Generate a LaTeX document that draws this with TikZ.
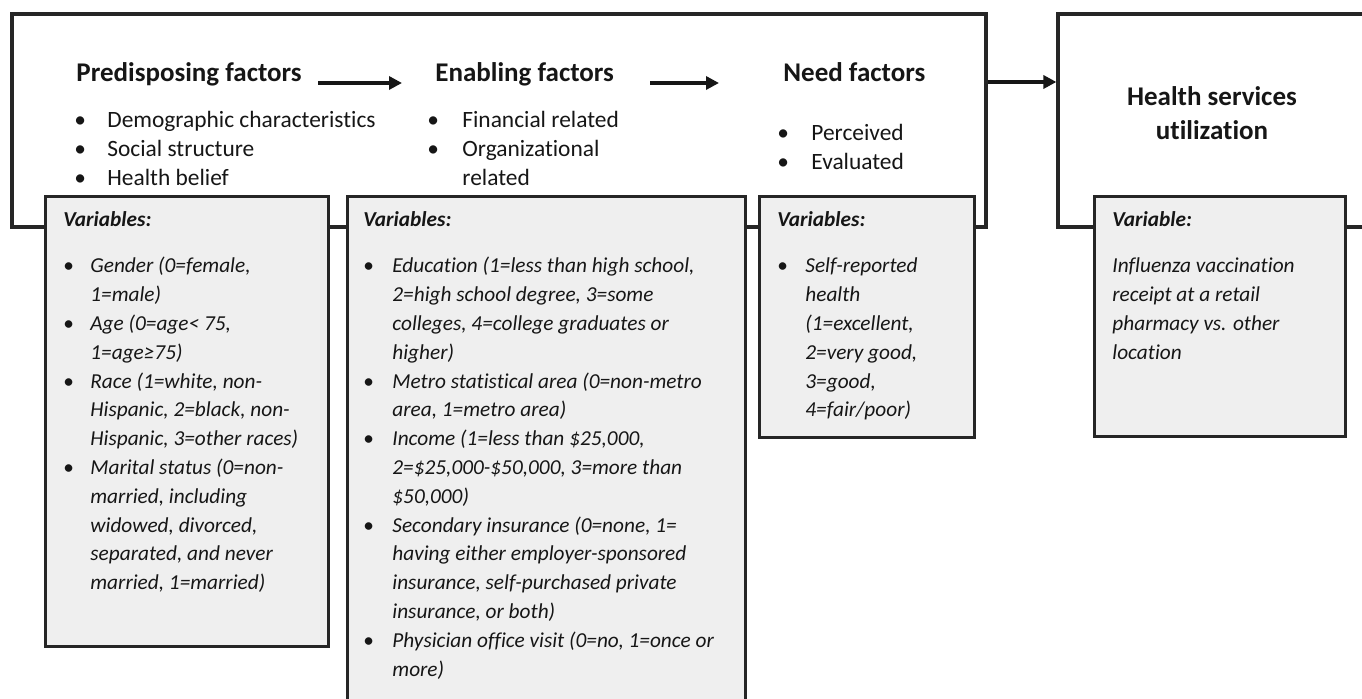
\documentclass[tikz,border=0pt]{standalone}
\usepackage{fontspec}
\setmainfont{Carlito}[RawFeature={-liga}]
\usetikzlibrary{arrows.meta}
\definecolor{ink}{HTML}{161616}
\definecolor{boxline}{HTML}{262626}
\definecolor{varfill}{HTML}{EFEFEF}

\tikzset{
  frame/.style={draw=boxline, line width=1.6pt, rectangle, inner sep=0pt},
  varbox/.style={draw=boxline, line width=1.5pt, fill=varfill, rectangle, inner sep=0pt},
  head/.style={font=\fontsize{13.5}{17}\selectfont\bfseries, text=ink, inner sep=0pt},
  body/.style={font=\fontsize{11.7}{14.5}\selectfont, text=ink, inner sep=0pt, anchor=base west},
  vartext/.style={font=\fontsize{10.65}{14.4}\selectfont\itshape, text=ink, inner sep=0pt, anchor=base west},
  flow/.style={draw=ink, line width=2pt, -{Triangle[length=6.5pt,width=6.5pt]}},
}
\newcommand{\vb}{{\upshape\textbullet}}

\begin{document}
\begin{tikzpicture}[x=0.5pt,y=-0.5pt]
\useasboundingbox (0,0) rectangle (1362,699);
\clip (0,0) rectangle (1362,699);
\fill[white] (0,0) rectangle (1362,699);

% model frames
\node[frame, minimum width=487pt, minimum height=106.5pt] (factors) at (499,120.5) {};
\node[frame, minimum width=158.5pt, minimum height=106.5pt] (outcome) at (1216.5,120.5) {};

% factor headings
\node[head, anchor=base west] (pre) at (76,82) {Predisposing factors};
\node[head, anchor=base west] (enb) at (435,82) {Enabling factors};
\node[head, anchor=base west] (need) at (783,82) {Need factors};
\node[head, anchor=base, align=center] (hsu) at (1212,140) {Health services\\utilization};

% factor lists
\node[body] (prelist) at (74,128) {\begin{tabular}[t]{@{}p{16.5pt}@{}l@{}}
\textbullet & Demographic characteristics\\
\textbullet & Social structure\\
\textbullet & Health belief
\end{tabular}};
\node[body] (enblist) at (427,128) {\begin{tabular}[t]{@{}p{17.5pt}@{}l@{}}
\textbullet & Financial related\\
\textbullet & Organizational\\
 & related
\end{tabular}};
\node[body] (needlist) at (777,141) {\begin{tabular}[t]{@{}p{17pt}@{}l@{}}
\textbullet & Perceived\\
\textbullet & Evaluated
\end{tabular}};

% variable boxes
\node[varbox, minimum width=141.5pt, minimum height=225pt] (v1) at (186.5,422) {};
\node[varbox, minimum width=199pt, minimum height=260pt] (v2) at (546,457) {};
\node[varbox, minimum width=107.5pt, minimum height=120.5pt] (v3) at (866.5,317.5) {};
\node[varbox, minimum width=125.5pt, minimum height=120pt] (v4) at (1219.5,317) {};

\node[vartext] (v1text) at (63,227) {\begin{tabular}[t]{@{}p{13.5pt}@{}l@{}}
\multicolumn{2}{@{}l@{}}{\bfseries Variables:}\\[8.6pt]
\vb & Gender (0=female,\\
 & 1=male)\\
\vb & Age (0=age< 75,\\
 & 1=age≥75)\\
\vb & Race (1=white, non-\\
 & Hispanic, 2=black, non-\\
 & Hispanic, 3=other races)\\
\vb & Marital status (0=non-\\
 & married, including\\
 & widowed, divorced,\\
 & separated, and never\\
 & married, 1=married)
\end{tabular}};

\node[vartext] (v2text) at (363,227) {\begin{tabular}[t]{@{}p{14.5pt}@{}l@{}}
\multicolumn{2}{@{}l@{}}{\bfseries Variables:}\\[8.6pt]
\vb & Education (1=less than high school,\\
 & 2=high school degree, 3=some\\
 & colleges, 4=college graduates or\\
 & higher)\\
\vb & Metro statistical area (0=non-metro\\
 & area, 1=metro area)\\
\vb & Income (1=less than \$25,000,\\
 & 2=\$25,000-\$50,000, 3=more than\\
 & \$50,000)\\
\vb & Secondary insurance (0=none, 1=\\
 & having either employer-sponsored\\
 & insurance, self-purchased private\\
 & insurance, or both)\\
\vb & Physician office visit (0=no, 1=once or\\
 & more)
\end{tabular}};

\node[vartext] (v3text) at (777,227) {\begin{tabular}[t]{@{}p{14pt}@{}l@{}}
\multicolumn{2}{@{}l@{}}{\bfseries Variables:}\\[8.6pt]
\vb & Self-reported\\
 & health\\
 & (1=excellent,\\
 & 2=very good,\\
 & 3=good,\\
 & 4=fair/poor)
\end{tabular}};

\node[vartext] (v4text) at (1112,227) {\begin{tabular}[t]{@{}l@{}}
{\bfseries Variable:}\\[8.6pt]
Influenza vaccination\\
receipt at a retail\\
pharmacy vs. other\\
location
\end{tabular}};

% flow arrows
\draw[flow] ([xshift=8pt,yshift=-0.5pt]pre.base east) -- ([xshift=-16.5pt,yshift=-0.5pt]enb.base west);
\draw[flow] ([xshift=18pt,yshift=-0.5pt]enb.base east) -- ([xshift=-32pt,yshift=-0.5pt]need.base west);
\draw[flow] (factors.east |- pre.base) -- (outcome.west |- pre.base);
\end{tikzpicture}
\end{document}
